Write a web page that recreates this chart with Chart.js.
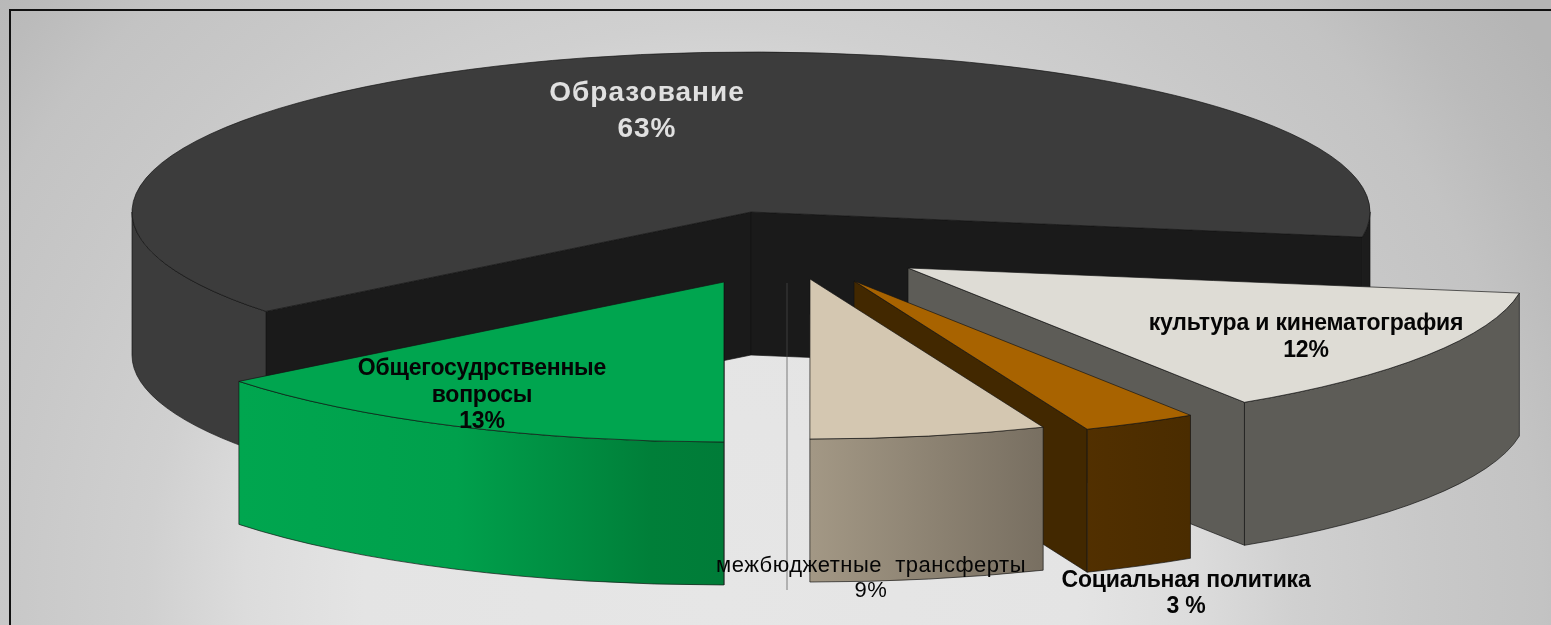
<!DOCTYPE html>
<html lang="ru">
<head>
<meta charset="utf-8">
<title>Расходы</title>
<script src="https://cdn.jsdelivr.net/npm/chart.js@4"></script>
<style>
html,body{margin:0;padding:0;width:1551px;height:625px;overflow:hidden;
background:radial-gradient(circle 990px at 720px 600px,#e6e6e6 0%,#e4e4e4 36%,#dcdcdc 48%,#d0d0d0 58%,#c8c8c8 72%,#c3c3c3 83%,#bbbbbb 91%,#b5b5b5 100%);}
#frame{position:absolute;left:9px;top:9px;width:1560px;height:640px;border:2px solid #111;box-sizing:border-box;}
canvas{position:absolute;left:0;top:0;filter:blur(0.45px);}
</style>
</head>
<body>
<div id="frame"></div>
<canvas id="c" width="1551" height="625"></canvas>
<script>
// Slices in clockwise drawing order
const categories = ['Образование','культура и кинематография','Социальная политика','межбюджетные трансферты','Общегосудрственные вопросы'];
// Printed percentages, as they are written on the picture
const printedLabels = ['63%','12%','3 %','9%','13%'];
// Angular shares of the wedges as drawn (percent of the full turn)
const wedgeShares = [63.17,13.35,3.0,6.15,14.33];

const topColors = ['#3c3c3c','#dedcd5','#a86300','#d4c7b1','#00a54f'];
const cutColors = ['#1a1a1a','#5d5c57','#422800','#d4c7b1','#00a54f'];
const wallStops = [
  [[0,'#3c3c3c'],[.5,'#3c3c3c'],[.5,'#1c1c1c'],[1,'#1c1c1c']],
  [[0,'#5d5c57'],[1,'#5d5c57']],
  [[0,'#4e2f00'],[.5,'#563200'],[1,'#4a2c00']],
  [[0,'#a39885'],[1,'#786f61']],
  [[0,'#00a64f'],[.45,'#00a04c'],[.85,'#007f39'],[1,'#007c38']]
];

// Projection of the flat pie to the tilted 3-D view
const view = {cx:751, cy:212, tilt:160/619, depth:143};
const explodeX = [0,157,103,59,-27];
const explodeY = [0,56,69,67,70];

// Label layout
const labelLines = [
  {x:647, y:101, gap:36, lines:['Образование',printedLabels[0]], font:'bold 28px "Liberation Sans"', ls:'1px', color:'#e0e0e0'},
  {x:1306,y:330, gap:27, lines:['культура и кинематография',printedLabels[1]], font:'bold 23px "Liberation Sans"', ls:'-0.2px', color:'#050505'},
  {x:1186,y:587, gap:26, lines:['Социальная политика',printedLabels[2]], font:'bold 23px "Liberation Sans"', ls:'-0.2px', color:'#050505'},
  {x:871, y:572, gap:25, lines:['межбюджетные  трансферты',printedLabels[3]], font:'22px "Liberation Sans"', ls:'0.5px', color:'#050505'},
  {x:482, y:375, gap:26.5, lines:['Общегосудрственные','вопросы',printedLabels[4]], font:'bold 23px "Liberation Sans"', ls:'-0.2px', color:'#050505'}
];

const pie3d = {
  id:'pie3d',
  beforeDatasetDraw(chart){
    const ctx = chart.ctx;
    const {cx,cy,tilt,depth} = view;
    const arcs = chart.getDatasetMeta(0).data;
    arcs.forEach((arc,i)=>{
      const a0 = arc.startAngle, a1 = arc.endAngle, r = arc.outerRadius;
      const ox = cx+explodeX[i], oy = cy+explodeY[i], ry = r*tilt;
      const px = a=>ox+r*Math.cos(a), py = a=>oy+ry*Math.sin(a);

      ctx.save();
      ctx.strokeStyle = 'rgba(20,20,20,.85)';
      ctx.lineWidth = 0.8;
      ctx.lineJoin = 'round';

      // Cut faces, visible only when they turn toward the viewer
      const faces = [];
      if(Math.cos(a0) < -1e-6) faces.push(a0);
      if(Math.cos(a1) >  1e-6) faces.push(a1);
      faces.forEach(a=>{
        ctx.beginPath();
        ctx.moveTo(ox,oy); ctx.lineTo(px(a),py(a));
        ctx.lineTo(px(a),py(a)+depth); ctx.lineTo(ox,oy+depth); ctx.closePath();
        ctx.fillStyle = cutColors[i];
        ctx.fill(); ctx.stroke();
      });

      // Outer wall: the front half of the rim
      const segs = [];
      [0,2*Math.PI].forEach(k=>{
        const s = Math.max(a0,k), e = Math.min(a1,k+Math.PI);
        if(e>s) segs.push([s,e]);
      });
      const xs = segs.flatMap(([s,e])=>[px(s),px(e),s<=Math.PI&&e>=Math.PI?ox-r:px(s)]);
      const g = ctx.createLinearGradient(Math.min(...xs,ox-(a0<Math.PI&&a1>Math.PI?r:0)),0,Math.max(...xs),0);
      wallStops[i].forEach(([t,c])=>g.addColorStop(t,c));
      segs.forEach(([s,e])=>{
        ctx.beginPath();
        ctx.ellipse(ox,oy,r,ry,0,s,e);
        ctx.ellipse(ox,oy+depth,r,ry,0,e,s,true);
        ctx.closePath();
        ctx.fillStyle = g;
        ctx.fill(); ctx.stroke();
      });

      // Top face: the library's own arc element under the tilt
      ctx.save();
      ctx.translate(ox,oy); ctx.scale(1,tilt); ctx.translate(-arc.x,-arc.y);
      arc.draw(ctx);
      ctx.restore();
      ctx.beginPath();
      ctx.moveTo(ox,oy);
      ctx.ellipse(ox,oy,r,ry,0,a0,a1);
      ctx.closePath();
      ctx.stroke();
      ctx.restore();
    });
    return false;
  },
  afterDatasetsDraw(chart){
    const ctx = chart.ctx;
    // Leader line of the transfers label
    ctx.save();
    ctx.strokeStyle = 'rgba(78,78,78,.35)';
    ctx.lineWidth = 2;
    ctx.beginPath(); ctx.moveTo(787,283); ctx.lineTo(787,590); ctx.stroke();
    // Data labels
    ctx.textAlign = 'center';
    ctx.textBaseline = 'alphabetic';
    labelLines.forEach(l=>{
      ctx.font = l.font; ctx.fillStyle = l.color; ctx.letterSpacing = l.ls;
      l.lines.forEach((t,k)=>ctx.fillText(t,l.x,l.y+k*l.gap));
    });
    ctx.restore();
  }
};

new Chart(document.getElementById('c'),{
  type:'pie',
  data:{labels:categories,datasets:[{data:wedgeShares,backgroundColor:topColors,borderWidth:0}]},
  options:{
    responsive:false,animation:false,rotation:231.6,radius:619,
    layout:{padding:0},
    plugins:{legend:{display:false},tooltip:{enabled:false},title:{display:false}}
  },
  plugins:[pie3d]
});
</script>
</body>
</html>
